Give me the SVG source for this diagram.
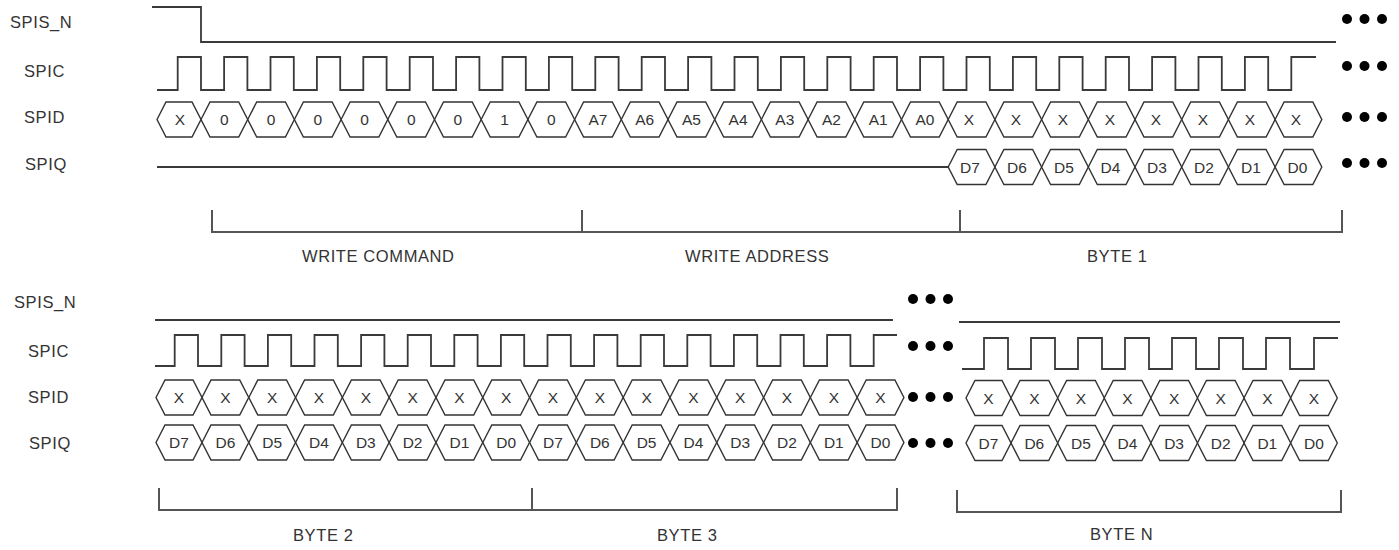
<svg xmlns="http://www.w3.org/2000/svg" xmlns:xlink="http://www.w3.org/1999/xlink" width="1399" height="550" viewBox="0 0 1399 550">
<style>
.bg{fill:#fff}
.w{fill:none;stroke:#3a3a3a;stroke-width:1.8;stroke-linejoin:miter}
.hex{fill:none;stroke:#333;stroke-width:1.4}
.br{fill:none;stroke:#555;stroke-width:2}
.t{font-family:"Liberation Sans",Arial,sans-serif;font-size:16.5px;letter-spacing:0.6px;fill:#333}
.c{font-family:"Liberation Sans",Arial,sans-serif;font-size:15.5px;fill:#333;text-anchor:middle}
.dot{fill:#000}
</style>
<defs>
<polygon id="hx" points="0,0 9,-17.5 37.7,-17.5 46.7,0 37.7,17.5 9,17.5"/>
<g id="dots"><circle cx="0" cy="0" r="5"/><circle cx="17.5" cy="0" r="5"/><circle cx="35" cy="0" r="5"/></g>
</defs>
<rect class="bg" x="0" y="0" width="1399" height="550"/>

<g id="labels-top">
<text class="t" x="10" y="28">SPIS_N</text>
<text class="t" x="24" y="77">SPIC</text>
<text class="t" x="24" y="123">SPID</text>
<text class="t" x="25" y="170">SPIQ</text>
</g>

<g id="top-spisn">
<path class="w" d="M152,7 H201 V42 H1336"/>
</g>

<g id="top-spic">
<path class="w" d="M157,90 H177.7 V57 H201 V90 H224.1 V57 H247.4 V90 H270.5 V57 H293.8 V90 H316.9 V57 H340.2 V90 H363.3 V57 H386.6 V90 H409.7 V57 H433 V90 H456.1 V57 H479.4 V90 H502.5 V57 H525.8 V90 H548.9 V57 H572.2 V90 H595.3 V57 H618.6 V90 H641.7 V57 H665 V90 H688.1 V57 H711.4 V90 H734.5 V57 H757.8 V90 H780.9 V57 H804.2 V90 H827.3 V57 H850.6 V90 H873.7 V57 H897 V90 H920.1 V57 H943.4 V90 H966.5 V57 H989.8 V90 H1012.9 V57 H1036.2 V90 H1059.3 V57 H1082.6 V90 H1105.7 V57 H1129 V90 H1152.1 V57 H1175.4 V90 H1198.5 V57 H1221.8 V90 H1244.9 V57 H1268.2 V90 H1291.3 V57 H1316"/>
</g>

<g id="top-spid">
<g class="hex">
<polygon points="157,119.5 166,102 192,102 201,119.5 192,137 166,137"/>
<use xlink:href="#hx" x="201" y="119.5"/><use xlink:href="#hx" x="247.7" y="119.5"/><use xlink:href="#hx" x="294.4" y="119.5"/><use xlink:href="#hx" x="341.1" y="119.5"/><use xlink:href="#hx" x="387.8" y="119.5"/><use xlink:href="#hx" x="434.5" y="119.5"/><use xlink:href="#hx" x="481.2" y="119.5"/><use xlink:href="#hx" x="527.9" y="119.5"/><use xlink:href="#hx" x="574.6" y="119.5"/><use xlink:href="#hx" x="621.3" y="119.5"/><use xlink:href="#hx" x="668" y="119.5"/><use xlink:href="#hx" x="714.7" y="119.5"/><use xlink:href="#hx" x="761.4" y="119.5"/><use xlink:href="#hx" x="808.1" y="119.5"/><use xlink:href="#hx" x="854.8" y="119.5"/><use xlink:href="#hx" x="901.5" y="119.5"/><use xlink:href="#hx" x="948.2" y="119.5"/><use xlink:href="#hx" x="994.9" y="119.5"/><use xlink:href="#hx" x="1041.6" y="119.5"/><use xlink:href="#hx" x="1088.3" y="119.5"/><use xlink:href="#hx" x="1135" y="119.5"/><use xlink:href="#hx" x="1181.7" y="119.5"/><use xlink:href="#hx" x="1228.4" y="119.5"/><use xlink:href="#hx" x="1275.1" y="119.5"/>
</g>
<text class="c" x="180" y="125.3">X</text>
<text class="c" x="224.4" y="125.3">0</text>
<text class="c" x="271.1" y="125.3">0</text>
<text class="c" x="317.8" y="125.3">0</text>
<text class="c" x="364.5" y="125.3">0</text>
<text class="c" x="411.2" y="125.3">0</text>
<text class="c" x="457.9" y="125.3">0</text>
<text class="c" x="504.6" y="125.3">1</text>
<text class="c" x="551.3" y="125.3">0</text>
<text class="c" x="598" y="125.3">A7</text>
<text class="c" x="644.7" y="125.3">A6</text>
<text class="c" x="691.4" y="125.3">A5</text>
<text class="c" x="738.1" y="125.3">A4</text>
<text class="c" x="784.8" y="125.3">A3</text>
<text class="c" x="831.5" y="125.3">A2</text>
<text class="c" x="878.2" y="125.3">A1</text>
<text class="c" x="924.9" y="125.3">A0</text>
<text class="c" x="969" y="125.3">X</text>
<text class="c" x="1016" y="125.3">X</text>
<text class="c" x="1063" y="125.3">X</text>
<text class="c" x="1110" y="125.3">X</text>
<text class="c" x="1156" y="125.3">X</text>
<text class="c" x="1203" y="125.3">X</text>
<text class="c" x="1250" y="125.3">X</text>
<text class="c" x="1296" y="125.3">X</text>
</g>

<g id="top-spiq">
<path class="w" d="M157,167 H948.2"/>
<g class="hex">
<use xlink:href="#hx" x="948.2" y="167"/><use xlink:href="#hx" x="994.9" y="167"/><use xlink:href="#hx" x="1041.6" y="167"/><use xlink:href="#hx" x="1088.3" y="167"/><use xlink:href="#hx" x="1135" y="167"/><use xlink:href="#hx" x="1181.7" y="167"/><use xlink:href="#hx" x="1228.4" y="167"/><use xlink:href="#hx" x="1275.1" y="167"/>
</g>
<text class="c" x="970" y="172.8">D7</text>
<text class="c" x="1017" y="172.8">D6</text>
<text class="c" x="1064" y="172.8">D5</text>
<text class="c" x="1110.5" y="172.8">D4</text>
<text class="c" x="1157" y="172.8">D3</text>
<text class="c" x="1204" y="172.8">D2</text>
<text class="c" x="1251" y="172.8">D1</text>
<text class="c" x="1297.5" y="172.8">D0</text>
</g>

<g id="top-dots" class="dot">
<use xlink:href="#dots" x="1347" y="19"/>
<use xlink:href="#dots" x="1347" y="66"/>
<use xlink:href="#dots" x="1347" y="117"/>
<use xlink:href="#dots" x="1347" y="163"/>
</g>

<g id="top-brackets">
<path class="br" d="M212,210 V232 H1342 V210 M582,210 V232 M960,210 V232"/>
<text class="t" x="302" y="262">WRITE COMMAND</text>
<text class="t" x="685" y="262">WRITE ADDRESS</text>
<text class="t" x="1087" y="262">BYTE 1</text>
</g>

<g id="labels-bottom">
<text class="t" x="14" y="308">SPIS_N</text>
<text class="t" x="28" y="357">SPIC</text>
<text class="t" x="28" y="403">SPID</text>
<text class="t" x="29" y="449">SPIQ</text>
</g>

<g id="bot-spisn">
<path class="w" d="M155,320 H893"/>
<path class="w" d="M959,322 H1340"/>
</g>

<g id="bot-spic">
<path class="w" d="M155,366 H174.7 V335 H198 V366 H221.3 V335 H244.6 V366 H267.9 V335 H291.2 V366 H314.5 V335 H337.8 V366 H361.1 V335 H384.4 V366 H407.7 V335 H431 V366 H454.3 V335 H477.6 V366 H500.9 V335 H524.2 V366 H547.5 V335 H570.8 V366 H594.1 V335 H617.4 V366 H640.7 V335 H664 V366 H687.3 V335 H710.6 V366 H733.9 V335 H757.2 V366 H780.5 V335 H803.8 V366 H827.1 V335 H850.4 V366 H873.7 V335 H897"/>
<path class="w" d="M962,369 H984 V338 H1008 V369 H1031 V338 H1055 V369 H1078 V338 H1102 V369 H1125 V338 H1149 V369 H1172 V338 H1196 V369 H1219 V338 H1243 V369 H1266 V338 H1290 V369 H1314 V338 H1338"/>
</g>

<g id="bot-spid">
<g class="hex">
<polygon points="156,397.5 165,380 193,380 202,397.5 193,415 165,415"/>
<use xlink:href="#hx" x="202" y="397.5"/><use xlink:href="#hx" x="248.8" y="397.5"/><use xlink:href="#hx" x="295.6" y="397.5"/><use xlink:href="#hx" x="342.4" y="397.5"/><use xlink:href="#hx" x="389.2" y="397.5"/><use xlink:href="#hx" x="436" y="397.5"/><use xlink:href="#hx" x="482.8" y="397.5"/><use xlink:href="#hx" x="529.6" y="397.5"/><use xlink:href="#hx" x="576.4" y="397.5"/><use xlink:href="#hx" x="623.2" y="397.5"/><use xlink:href="#hx" x="670" y="397.5"/><use xlink:href="#hx" x="716.8" y="397.5"/><use xlink:href="#hx" x="763.6" y="397.5"/><use xlink:href="#hx" x="810.4" y="397.5"/><use xlink:href="#hx" x="857.2" y="397.5"/>
<polygon points="966,398 975,380.5 1002,380.5 1011,398 1002,415.5 975,415.5"/>
<use xlink:href="#hx" x="1011" y="398"/><use xlink:href="#hx" x="1057.6" y="398"/><use xlink:href="#hx" x="1104.2" y="398"/><use xlink:href="#hx" x="1150.8" y="398"/><use xlink:href="#hx" x="1197.4" y="398"/><use xlink:href="#hx" x="1244" y="398"/><use xlink:href="#hx" x="1290.6" y="398"/>
</g>
<text class="c" x="179" y="403.3">X</text>
<text class="c" x="225.4" y="403.3">X</text>
<text class="c" x="272.2" y="403.3">X</text>
<text class="c" x="319" y="403.3">X</text>
<text class="c" x="365.8" y="403.3">X</text>
<text class="c" x="412.6" y="403.3">X</text>
<text class="c" x="459.4" y="403.3">X</text>
<text class="c" x="506.2" y="403.3">X</text>
<text class="c" x="553" y="403.3">X</text>
<text class="c" x="599.8" y="403.3">X</text>
<text class="c" x="646.6" y="403.3">X</text>
<text class="c" x="693.4" y="403.3">X</text>
<text class="c" x="740.2" y="403.3">X</text>
<text class="c" x="787" y="403.3">X</text>
<text class="c" x="833.8" y="403.3">X</text>
<text class="c" x="880.4" y="403.3">X</text>
<text class="c" x="988.5" y="403.8">X</text>
<text class="c" x="1034.3" y="403.8">X</text>
<text class="c" x="1080.9" y="403.8">X</text>
<text class="c" x="1127.5" y="403.8">X</text>
<text class="c" x="1174.1" y="403.8">X</text>
<text class="c" x="1220.7" y="403.8">X</text>
<text class="c" x="1267.3" y="403.8">X</text>
<text class="c" x="1313.9" y="403.8">X</text>
</g>

<g id="bot-spiq">
<g class="hex">
<polygon points="156,442.5 165,425 193,425 202,442.5 193,460 165,460"/>
<use xlink:href="#hx" x="202" y="442.5"/><use xlink:href="#hx" x="248.8" y="442.5"/><use xlink:href="#hx" x="295.6" y="442.5"/><use xlink:href="#hx" x="342.4" y="442.5"/><use xlink:href="#hx" x="389.2" y="442.5"/><use xlink:href="#hx" x="436" y="442.5"/><use xlink:href="#hx" x="482.8" y="442.5"/><use xlink:href="#hx" x="529.6" y="442.5"/><use xlink:href="#hx" x="576.4" y="442.5"/><use xlink:href="#hx" x="623.2" y="442.5"/><use xlink:href="#hx" x="670" y="442.5"/><use xlink:href="#hx" x="716.8" y="442.5"/><use xlink:href="#hx" x="763.6" y="442.5"/><use xlink:href="#hx" x="810.4" y="442.5"/><use xlink:href="#hx" x="857.2" y="442.5"/>
<polygon points="966,443 975,425.5 1002,425.5 1011,443 1002,460.5 975,460.5"/>
<use xlink:href="#hx" x="1011" y="443"/><use xlink:href="#hx" x="1057.6" y="443"/><use xlink:href="#hx" x="1104.2" y="443"/><use xlink:href="#hx" x="1150.8" y="443"/><use xlink:href="#hx" x="1197.4" y="443"/><use xlink:href="#hx" x="1244" y="443"/><use xlink:href="#hx" x="1290.6" y="443"/>
</g>
<text class="c" x="179" y="448.3">D7</text>
<text class="c" x="225.4" y="448.3">D6</text>
<text class="c" x="272.2" y="448.3">D5</text>
<text class="c" x="319" y="448.3">D4</text>
<text class="c" x="365.8" y="448.3">D3</text>
<text class="c" x="412.6" y="448.3">D2</text>
<text class="c" x="459.4" y="448.3">D1</text>
<text class="c" x="506.2" y="448.3">D0</text>
<text class="c" x="553" y="448.3">D7</text>
<text class="c" x="599.8" y="448.3">D6</text>
<text class="c" x="646.6" y="448.3">D5</text>
<text class="c" x="693.4" y="448.3">D4</text>
<text class="c" x="740.2" y="448.3">D3</text>
<text class="c" x="787" y="448.3">D2</text>
<text class="c" x="833.8" y="448.3">D1</text>
<text class="c" x="880.4" y="448.3">D0</text>
<text class="c" x="988.5" y="448.8">D7</text>
<text class="c" x="1034.3" y="448.8">D6</text>
<text class="c" x="1080.9" y="448.8">D5</text>
<text class="c" x="1127.5" y="448.8">D4</text>
<text class="c" x="1174.1" y="448.8">D3</text>
<text class="c" x="1220.7" y="448.8">D2</text>
<text class="c" x="1267.3" y="448.8">D1</text>
<text class="c" x="1313.9" y="448.8">D0</text>
</g>

<g id="bot-dots" class="dot">
<use xlink:href="#dots" x="913" y="299"/>
<use xlink:href="#dots" x="913" y="346"/>
<use xlink:href="#dots" x="913" y="397"/>
<use xlink:href="#dots" x="913" y="443"/>
</g>

<g id="bot-brackets">
<path class="br" d="M159,488 V510 H897 V488 M532,488 V510"/>
<path class="br" d="M957,490 V512 H1341 V490"/>
<text class="t" x="293" y="541">BYTE 2</text>
<text class="t" x="657" y="541">BYTE 3</text>
<text class="t" x="1090" y="540">BYTE N</text>
</g>
</svg>
